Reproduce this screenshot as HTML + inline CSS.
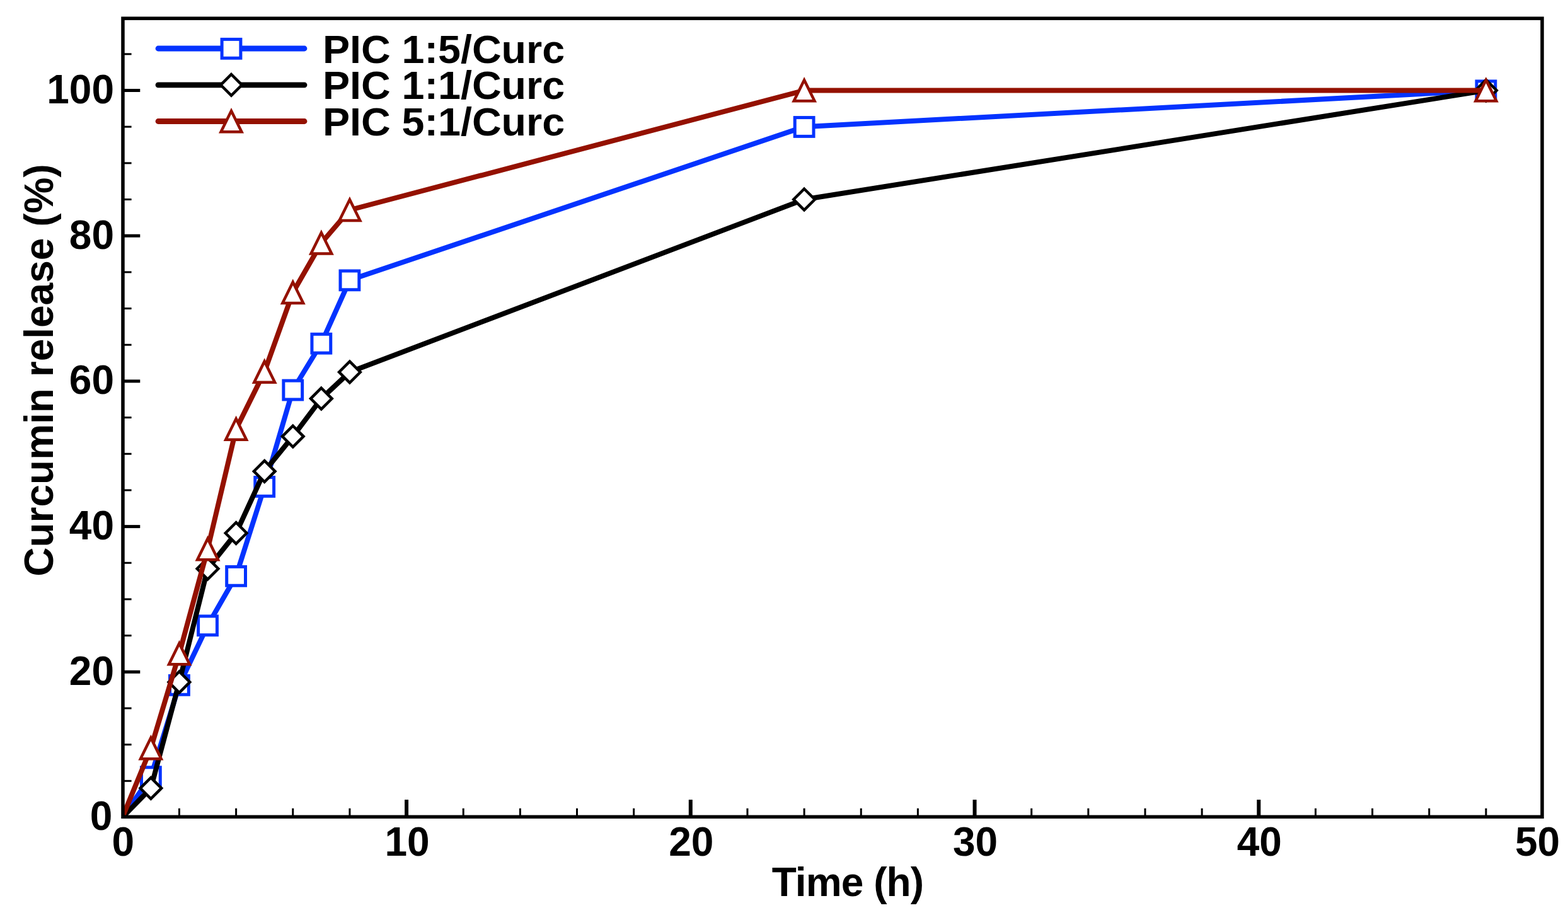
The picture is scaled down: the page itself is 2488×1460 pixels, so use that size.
<!DOCTYPE html>
<html lang="en">
<head>
<meta charset="utf-8">
<title>Curcumin release (%) vs Time (h)</title>
<style>
html,body{margin:0;padding:0;background:#fff;}
body{width:2488px;height:1460px;overflow:hidden;}
svg{display:block;}
</style>
</head>
<body>
<svg width="2488" height="1460" viewBox="0 0 2488 1460">
<rect x="0" y="0" width="2488" height="1460" fill="#fff"/>
<g id="ticks">
<line x1="195.0" y1="1239.33" x2="208.6" y2="1239.33" stroke="#000" stroke-width="3"/>
<line x1="195.0" y1="1181.65" x2="208.6" y2="1181.65" stroke="#000" stroke-width="3"/>
<line x1="195.0" y1="1123.97" x2="208.6" y2="1123.97" stroke="#000" stroke-width="3"/>
<line x1="195.0" y1="1066.3" x2="222.3" y2="1066.3" stroke="#000" stroke-width="5"/>
<line x1="195.0" y1="1008.62" x2="208.6" y2="1008.62" stroke="#000" stroke-width="3"/>
<line x1="195.0" y1="950.95" x2="208.6" y2="950.95" stroke="#000" stroke-width="3"/>
<line x1="195.0" y1="893.27" x2="208.6" y2="893.27" stroke="#000" stroke-width="3"/>
<line x1="195.0" y1="835.6" x2="222.3" y2="835.6" stroke="#000" stroke-width="5"/>
<line x1="195.0" y1="777.92" x2="208.6" y2="777.92" stroke="#000" stroke-width="3"/>
<line x1="195.0" y1="720.25" x2="208.6" y2="720.25" stroke="#000" stroke-width="3"/>
<line x1="195.0" y1="662.58" x2="208.6" y2="662.58" stroke="#000" stroke-width="3"/>
<line x1="195.0" y1="604.9" x2="222.3" y2="604.9" stroke="#000" stroke-width="5"/>
<line x1="195.0" y1="547.23" x2="208.6" y2="547.23" stroke="#000" stroke-width="3"/>
<line x1="195.0" y1="489.55" x2="208.6" y2="489.55" stroke="#000" stroke-width="3"/>
<line x1="195.0" y1="431.88" x2="208.6" y2="431.88" stroke="#000" stroke-width="3"/>
<line x1="195.0" y1="374.2" x2="222.3" y2="374.2" stroke="#000" stroke-width="5"/>
<line x1="195.0" y1="316.52" x2="208.6" y2="316.52" stroke="#000" stroke-width="3"/>
<line x1="195.0" y1="258.85" x2="208.6" y2="258.85" stroke="#000" stroke-width="3"/>
<line x1="195.0" y1="201.17" x2="208.6" y2="201.17" stroke="#000" stroke-width="3"/>
<line x1="195.0" y1="143.5" x2="222.3" y2="143.5" stroke="#000" stroke-width="5"/>
<line x1="195.0" y1="85.83" x2="208.6" y2="85.83" stroke="#000" stroke-width="3"/>
<line x1="284.45" y1="1296.3" x2="284.45" y2="1282.8" stroke="#000" stroke-width="3"/>
<line x1="374.6" y1="1296.3" x2="374.6" y2="1282.8" stroke="#000" stroke-width="3"/>
<line x1="464.75" y1="1296.3" x2="464.75" y2="1282.8" stroke="#000" stroke-width="3"/>
<line x1="554.9" y1="1296.3" x2="554.9" y2="1282.8" stroke="#000" stroke-width="3"/>
<line x1="645.05" y1="1296.3" x2="645.05" y2="1269.1" stroke="#000" stroke-width="6"/>
<line x1="735.2" y1="1296.3" x2="735.2" y2="1282.8" stroke="#000" stroke-width="3"/>
<line x1="825.35" y1="1296.3" x2="825.35" y2="1282.8" stroke="#000" stroke-width="3"/>
<line x1="915.5" y1="1296.3" x2="915.5" y2="1282.8" stroke="#000" stroke-width="3"/>
<line x1="1005.65" y1="1296.3" x2="1005.65" y2="1282.8" stroke="#000" stroke-width="3"/>
<line x1="1095.8" y1="1296.3" x2="1095.8" y2="1269.1" stroke="#000" stroke-width="6"/>
<line x1="1185.95" y1="1296.3" x2="1185.95" y2="1282.8" stroke="#000" stroke-width="3"/>
<line x1="1276.1" y1="1296.3" x2="1276.1" y2="1282.8" stroke="#000" stroke-width="3"/>
<line x1="1366.25" y1="1296.3" x2="1366.25" y2="1282.8" stroke="#000" stroke-width="3"/>
<line x1="1456.4" y1="1296.3" x2="1456.4" y2="1282.8" stroke="#000" stroke-width="3"/>
<line x1="1546.55" y1="1296.3" x2="1546.55" y2="1269.1" stroke="#000" stroke-width="6"/>
<line x1="1636.7" y1="1296.3" x2="1636.7" y2="1282.8" stroke="#000" stroke-width="3"/>
<line x1="1726.85" y1="1296.3" x2="1726.85" y2="1282.8" stroke="#000" stroke-width="3"/>
<line x1="1817" y1="1296.3" x2="1817" y2="1282.8" stroke="#000" stroke-width="3"/>
<line x1="1907.15" y1="1296.3" x2="1907.15" y2="1282.8" stroke="#000" stroke-width="3"/>
<line x1="1997.3" y1="1296.3" x2="1997.3" y2="1269.1" stroke="#000" stroke-width="6"/>
<line x1="2087.45" y1="1296.3" x2="2087.45" y2="1282.8" stroke="#000" stroke-width="3"/>
<line x1="2177.6" y1="1296.3" x2="2177.6" y2="1282.8" stroke="#000" stroke-width="3"/>
<line x1="2267.75" y1="1296.3" x2="2267.75" y2="1282.8" stroke="#000" stroke-width="3"/>
<line x1="2357.9" y1="1296.3" x2="2357.9" y2="1282.8" stroke="#000" stroke-width="3"/>
</g>
<g id="data" clip-path="url(#clip)">
<defs><clipPath id="clip"><rect x="195.0" y="29.2" width="2252.0" height="1267.1"/></clipPath></defs>
<polyline points="194.3,1297 239.38,1232.4 284.45,1087.06 329.53,992.48 374.6,914.04 419.68,772.16 464.75,618.74 509.83,544.92 554.9,444.56 1276.1,201.17 2357.9,143.5" fill="none" stroke="#0433ff" stroke-width="8.0" stroke-linejoin="round"/>
<rect x="224.47" y="1217.8" width="29.8" height="29.8" fill="#fff" stroke="#0433ff" stroke-width="5.0"/>
<rect x="269.55" y="1072.46" width="29.8" height="29.8" fill="#fff" stroke="#0433ff" stroke-width="5.0"/>
<rect x="314.63" y="977.88" width="29.8" height="29.8" fill="#fff" stroke="#0433ff" stroke-width="5.0"/>
<rect x="359.7" y="899.44" width="29.8" height="29.8" fill="#fff" stroke="#0433ff" stroke-width="5.0"/>
<rect x="404.78" y="757.56" width="29.8" height="29.8" fill="#fff" stroke="#0433ff" stroke-width="5.0"/>
<rect x="449.85" y="604.14" width="29.8" height="29.8" fill="#fff" stroke="#0433ff" stroke-width="5.0"/>
<rect x="494.93" y="530.32" width="29.8" height="29.8" fill="#fff" stroke="#0433ff" stroke-width="5.0"/>
<rect x="540" y="429.96" width="29.8" height="29.8" fill="#fff" stroke="#0433ff" stroke-width="5.0"/>
<rect x="1261.2" y="186.57" width="29.8" height="29.8" fill="#fff" stroke="#0433ff" stroke-width="5.0"/>
<rect x="2343" y="128.9" width="29.8" height="29.8" fill="#fff" stroke="#0433ff" stroke-width="5.0"/>
<polyline points="194.3,1297 239.38,1250.86 284.45,1082.45 329.53,902.5 374.6,845.98 419.68,747.93 464.75,692.57 509.83,632.58 554.9,590.48 1276.1,316.52 2357.9,143.5" fill="none" stroke="#000000" stroke-width="8.0" stroke-linejoin="round"/>
<polygon points="239.38,1234.06 256.18,1250.86 239.38,1267.66 222.57,1250.86" fill="#fff" stroke="#000000" stroke-width="4.5"/>
<polygon points="284.45,1065.65 301.25,1082.45 284.45,1099.25 267.65,1082.45" fill="#fff" stroke="#000000" stroke-width="4.5"/>
<polygon points="329.53,885.7 346.33,902.5 329.53,919.3 312.73,902.5" fill="#fff" stroke="#000000" stroke-width="4.5"/>
<polygon points="374.6,829.18 391.4,845.98 374.6,862.78 357.8,845.98" fill="#fff" stroke="#000000" stroke-width="4.5"/>
<polygon points="419.68,731.13 436.48,747.93 419.68,764.73 402.88,747.93" fill="#fff" stroke="#000000" stroke-width="4.5"/>
<polygon points="464.75,675.77 481.55,692.57 464.75,709.37 447.95,692.57" fill="#fff" stroke="#000000" stroke-width="4.5"/>
<polygon points="509.83,615.78 526.62,632.58 509.83,649.38 493.03,632.58" fill="#fff" stroke="#000000" stroke-width="4.5"/>
<polygon points="554.9,573.68 571.7,590.48 554.9,607.28 538.1,590.48" fill="#fff" stroke="#000000" stroke-width="4.5"/>
<polygon points="1276.1,299.72 1292.9,316.52 1276.1,333.32 1259.3,316.52" fill="#fff" stroke="#000000" stroke-width="4.5"/>
<polygon points="2357.9,126.7 2374.7,143.5 2357.9,160.3 2341.1,143.5" fill="#fff" stroke="#000000" stroke-width="4.5"/>
<polyline points="194.3,1297 239.38,1187.42 284.45,1037.46 329.53,871.36 374.6,681.03 419.68,589.9 464.75,464.17 509.83,385.74 554.9,333.25 1276.1,143.5 2357.9,143.5" fill="none" stroke="#941100" stroke-width="8.0" stroke-linejoin="round"/>
<polygon points="239.38,1170.92 255.78,1204.22 222.97,1204.22" fill="#fff" stroke="#941100" stroke-width="4.5"/>
<polygon points="284.45,1020.96 300.85,1054.26 268.05,1054.26" fill="#fff" stroke="#941100" stroke-width="4.5"/>
<polygon points="329.53,854.86 345.93,888.16 313.13,888.16" fill="#fff" stroke="#941100" stroke-width="4.5"/>
<polygon points="374.6,664.53 391,697.83 358.2,697.83" fill="#fff" stroke="#941100" stroke-width="4.5"/>
<polygon points="419.68,573.4 436.07,606.7 403.28,606.7" fill="#fff" stroke="#941100" stroke-width="4.5"/>
<polygon points="464.75,447.67 481.15,480.97 448.35,480.97" fill="#fff" stroke="#941100" stroke-width="4.5"/>
<polygon points="509.83,369.24 526.23,402.54 493.43,402.54" fill="#fff" stroke="#941100" stroke-width="4.5"/>
<polygon points="554.9,316.75 571.3,350.05 538.5,350.05" fill="#fff" stroke="#941100" stroke-width="4.5"/>
<polygon points="1276.1,127 1292.5,160.3 1259.7,160.3" fill="#fff" stroke="#941100" stroke-width="4.5"/>
<polygon points="2357.9,127 2374.3,160.3 2341.5,160.3" fill="#fff" stroke="#941100" stroke-width="4.5"/>
</g>
<rect x="195.0" y="29.2" width="2252.0" height="1267.1" fill="none" stroke="#000" stroke-width="5.5"/>
<g id="legend">
<line x1="251" y1="77" x2="483" y2="77" stroke="#0433ff" stroke-width="8.8" stroke-linecap="round"/>
<rect x="352.1" y="62.4" width="29.8" height="29.8" fill="#fff" stroke="#0433ff" stroke-width="5.0"/>
<line x1="251" y1="134.8" x2="483" y2="134.8" stroke="#000000" stroke-width="8.8" stroke-linecap="round"/>
<polygon points="367,118 383.8,134.8 367,151.6 350.2,134.8" fill="#fff" stroke="#000000" stroke-width="4.5"/>
<line x1="251" y1="192.5" x2="483" y2="192.5" stroke="#941100" stroke-width="8.8" stroke-linecap="round"/>
<polygon points="367,176 383.4,209.3 350.6,209.3" fill="#fff" stroke="#941100" stroke-width="4.5"/>
</g>
<g font-family="'Liberation Sans', Arial, Helvetica, sans-serif" font-weight="bold" fill="#000">
<text transform="translate(512,99.9) scale(0.994,0.98)" font-size="65">PIC 1:5/Curc</text>
<text transform="translate(512,157.2) scale(0.994,0.98)" font-size="65">PIC 1:1/Curc</text>
<text transform="translate(512,214.6) scale(0.994,0.98)" font-size="65">PIC 5:1/Curc</text>
<text x="178.3" y="1317.3" font-size="64" text-anchor="end">0</text>
<text x="181" y="1086.6" font-size="64" text-anchor="end">20</text>
<text x="181" y="855.9" font-size="64" text-anchor="end">40</text>
<text x="181" y="625.2" font-size="64" text-anchor="end">60</text>
<text x="181" y="394.5" font-size="64" text-anchor="end">80</text>
<text x="181" y="163.8" font-size="64" text-anchor="end">100</text>
<text x="195.3" y="1358.3" font-size="64" text-anchor="middle">0</text>
<text x="646.05" y="1358.3" font-size="64" text-anchor="middle">10</text>
<text x="1096.8" y="1358.3" font-size="64" text-anchor="middle">20</text>
<text x="1547.55" y="1358.3" font-size="64" text-anchor="middle">30</text>
<text x="1998.3" y="1358.3" font-size="64" text-anchor="middle">40</text>
<text x="2439.55" y="1358.3" font-size="64" text-anchor="middle">50</text>
<text x="1224.8" y="1421.9" font-size="64" textLength="241.3" lengthAdjust="spacing">Time (h)</text>
<text transform="translate(83.5,587.5) rotate(-90)" font-size="64" text-anchor="middle">Curcumin release (%)</text>
</g>
</svg>
</body>
</html>
